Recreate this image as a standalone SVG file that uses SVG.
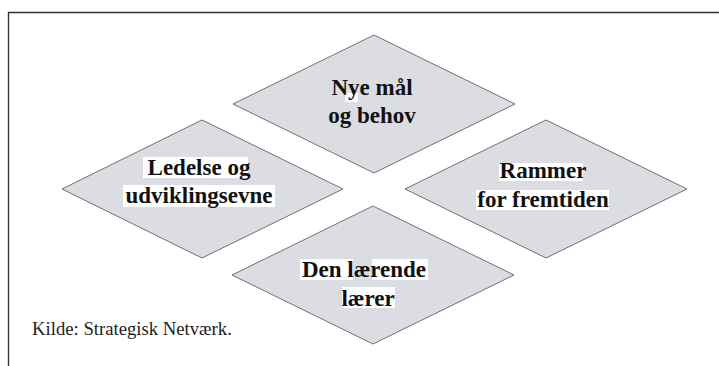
<svg xmlns="http://www.w3.org/2000/svg" width="719" height="366" viewBox="0 0 719 366">
<style>
.frame{fill:none;stroke:#333;stroke-width:1.4}
.dia{fill:#dcdde3;stroke:#707070;stroke-width:1}
.lbl{font-family:"Liberation Serif","DejaVu Serif",serif;font-weight:bold;font-size:23px;fill:#111;text-anchor:middle}
.hl{fill:#fff}
.cap{font-family:"Liberation Serif","DejaVu Serif",serif;font-size:18.7px;fill:#222}
</style>
<rect width="719" height="366" fill="#fff"/>
<path class="frame" d="M8.5,366 V12.5 H719"/>
<g id="connectors"></g>
<g id="node-top">
<polygon class="dia" points="374,35 515,104 374,173 233,104"/>
<rect class="hl" x="345" y="93" width="13" height="9"/>
<text class="lbl" x="372" y="95">Nye mål</text>
<text class="lbl" x="372" y="123">og behov</text>
</g>
<g id="node-left">
<polygon class="dia" points="202,120 343,189 202,258 62,189"/>
<rect class="hl" x="143" y="157" width="105" height="21"/>
<rect class="hl" x="123" y="185" width="152" height="22"/>
<text class="lbl" x="199" y="175">Ledelse og</text>
<text class="lbl" x="199" y="203">udviklingsevne</text>
</g>
<g id="node-right">
<polygon class="dia" points="546,120 687,189 546,258 405,189"/>
<rect class="hl" x="499" y="163" width="84" height="18"/>
<rect class="hl" x="476" y="190" width="133" height="20"/>
<text class="lbl" x="543" y="178">Rammer</text>
<text class="lbl" x="543" y="207">for fremtiden</text>
</g>
<g id="node-bottom">
<polygon class="dia" points="373,206 514,275 373,344 232,275"/>
<rect class="hl" x="300" y="259" width="53" height="21"/>
<rect class="hl" x="372" y="259" width="56" height="21"/>
<rect class="hl" x="342" y="287" width="53" height="21"/>
<text class="lbl" x="364" y="277">Den lærende</text>
<text class="lbl" x="368" y="306">lærer</text>
</g>
<text class="cap" x="32" y="335">Kilde: Strategisk Netværk.</text>
</svg>
